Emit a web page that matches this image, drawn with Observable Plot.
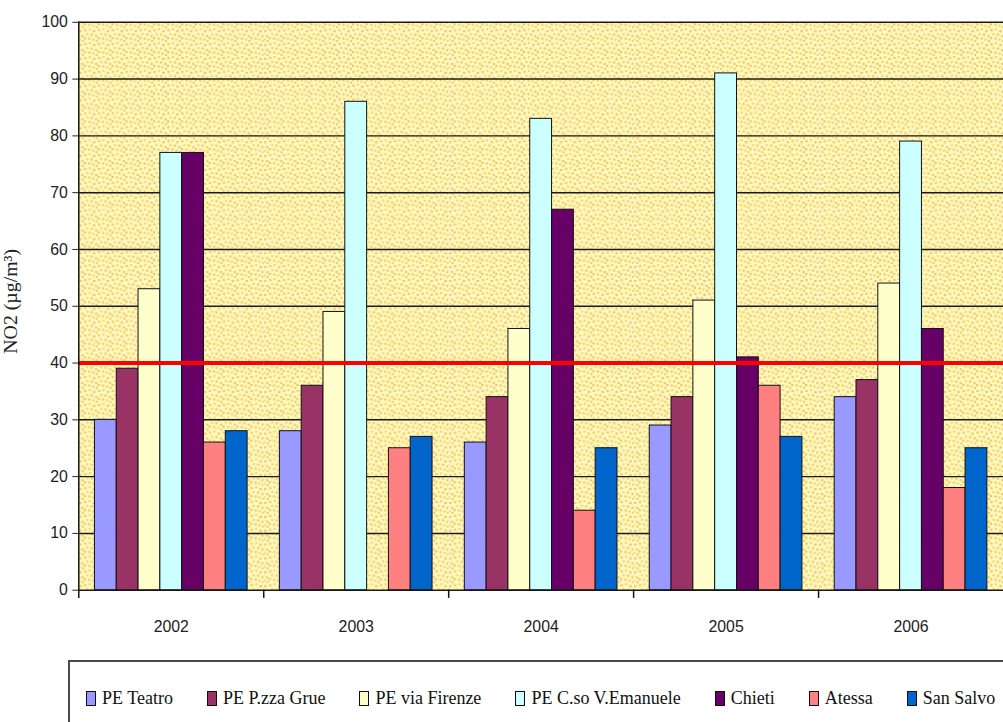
<!DOCTYPE html>
<html>
<head>
<meta charset="utf-8">
<script src="https://cdn.jsdelivr.net/npm/d3@7"></script>
<script src="https://cdn.jsdelivr.net/npm/@observablehq/plot@0.6"></script>
<style>
  html, body { margin: 0; padding: 0; background: #fff; width: 1003px; height: 722px; overflow: hidden; }
  #wrap { position: relative; width: 1003px; height: 722px; }
  #chart { position: absolute; left: 0; top: 0; }
  #legend {
    position: absolute; left: 68px; top: 660px; width: 1100px; height: 120px;
    border: 2px solid #4a4a4a; box-sizing: border-box;
    display: flex; align-items: center; gap: 34px;
    padding: 0 0 44px 16px;
    color: #111;
  }
  .item { display: flex; align-items: center; white-space: nowrap; }
  .item span { font-family: 'Liberation Serif', 'Times New Roman', serif; font-size: 18px; }
  .sw { width: 8px; height: 13px; border: 1px solid #111; margin-right: 6px; }
</style>
</head>
<body>
<!-- dotted yellow texture used as the plot background -->
<svg width="0" height="0" style="position:absolute">
  <defs>
    <pattern id="dots" width="14" height="14" patternUnits="userSpaceOnUse">
      <rect width="14" height="14" fill="#FFF8C2"/>
      <circle cx="1.5" cy="2" r="1.35" fill="#F3CD52"/>
      <circle cx="6" cy="1" r="1.25" fill="#F5D766"/>
      <circle cx="10.5" cy="3" r="1.35" fill="#EFC562"/>
      <circle cx="3.5" cy="6" r="1.25" fill="#F5D766"/>
      <circle cx="8" cy="6.5" r="1.35" fill="#F3CD52"/>
      <circle cx="12.5" cy="8" r="1.25" fill="#EFC562"/>
      <circle cx="1" cy="10" r="1.35" fill="#EFC562"/>
      <circle cx="5.5" cy="10.5" r="1.25" fill="#F3CD52"/>
      <circle cx="9.5" cy="11.5" r="1.35" fill="#F5D766"/>
      <circle cx="13" cy="13" r="1.15" fill="#F3CD52"/>
    </pattern>
  </defs>
</svg>
<div id="wrap">
  <div id="chart"></div>
  <div id="legend"></div>
</div>
<script>
// Annual mean NO2 concentration by monitoring station
const years = ["2002", "2003", "2004", "2005", "2006"];
const stations = ["PE Teatro", "PE P.zza Grue", "PE via Firenze", "PE C.so V.Emanuele", "Chieti", "Atessa", "San Salvo"];
const stationColors = ["#9999FF", "#993366", "#FFFFCC", "#CCFFFF", "#660066", "#FF8080", "#0066CC"];

const peTeatro = [30, 28, 26, 29, 34];
const pePzzaGrue = [39, 36, 34, 34, 37];
const peViaFirenze = [53, 49, 46, 51, 54];
const peCsoVEmanuele = [77, 86, 83, 91, 79];
const chieti = [77, null, 67, 41, 46];
const atessa = [26, 25, 14, 36, 18];
const sanSalvo = [28, 27, 25, 27, 25];

const limitValue = 40;             // annual limit value
const yTicks = [0, 10, 20, 30, 40, 50, 60, 70, 80, 90, 100];
const yTitle = "NO2 (µg/m³)";

const seriesValues = [peTeatro, pePzzaGrue, peViaFirenze, peCsoVEmanuele, chieti, atessa, sanSalvo];
const rows = [];
stations.forEach((s, si) => {
  years.forEach((y, yi) => {
    const v = seriesValues[si][yi];
    if (v != null) rows.push({year: y, station: s, value: v});
  });
});

const W = 1012, H = 650, mL = 79, mR = 0, mT = 22, mB = 55;
const innerH = H - mT - mB;
const sans = "'Liberation Sans', Arial, sans-serif";
const serif = "'Liberation Serif', 'Times New Roman', serif";

const chart = Plot.plot({
  width: W, height: H,
  marginLeft: mL, marginRight: mR, marginTop: mT, marginBottom: mB,
  style: {background: "transparent", color: "#111"},
  fx: {domain: years, padding: 0, round: false, label: null},
  x: {domain: stations, paddingInner: 0, paddingOuter: 0.74, round: false, axis: null},
  y: {domain: [0, 100]},
  color: {domain: stations, range: stationColors},
  marks: [
    Plot.frame({fill: "url(#dots)", stroke: "none"}),
    Plot.ruleY(yTicks, {stroke: "#1a1a1a", strokeWidth: 1.5}),
    Plot.barY(rows, {fx: "year", x: "station", y: "value", fill: "station", stroke: "#111", strokeWidth: 1}),
    Plot.ruleY([limitValue], {stroke: "#FF0000", strokeWidth: 4}),
    Plot.frame({anchor: "left", facetAnchor: "left", stroke: "#111", strokeWidth: 1.5}),
    Plot.frame({anchor: "left", insetTop: innerH, insetBottom: -7, stroke: "#111", strokeWidth: 1.5}),
    Plot.axisY({ticks: yTicks, tickSize: 6, tickPadding: 5, fontSize: 16, fontFamily: sans, label: null, color: "#222"}),
    Plot.axisFx({anchor: "bottom", tickSize: 0, tickPadding: 31, fontSize: 16, fontFamily: sans, label: null, color: "#222"}),
    Plot.text([yTitle], {fx: [years[0]], text: d => d, frameAnchor: "left", textAnchor: "middle", rotate: -90, dx: -69, dy: -5,
      fontSize: 20, fontFamily: serif, fill: "#222"})
  ]
});
document.getElementById("chart").append(chart);

// Legend row
const legend = d3.select("#legend");
stations.forEach((s, i) => {
  const item = legend.append("div").attr("class", "item");
  item.append("div").attr("class", "sw").style("background", stationColors[i]);
  item.append("span").text(s);
});
</script>
</body>
</html>
